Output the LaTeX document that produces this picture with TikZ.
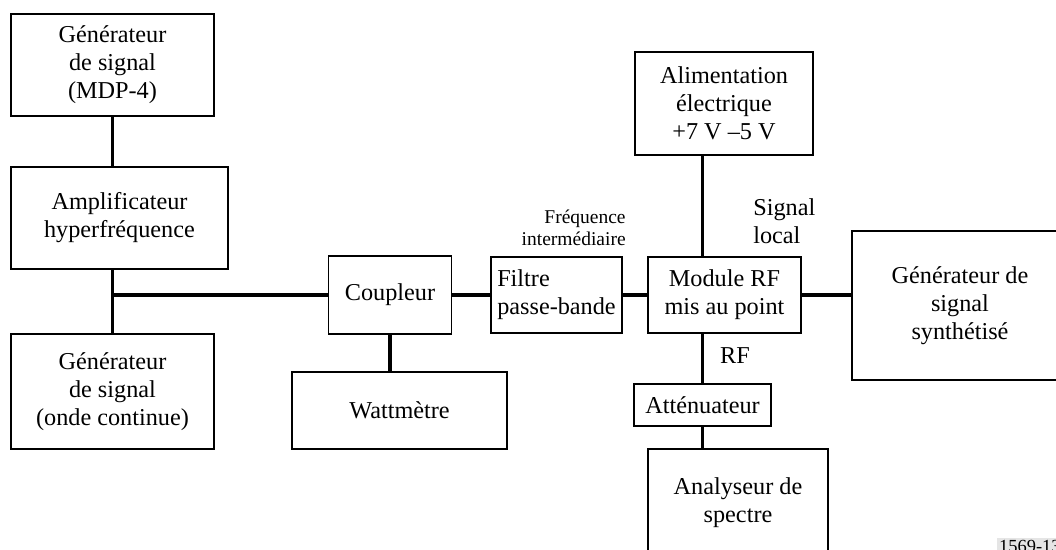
\documentclass[tikz,border=0pt]{standalone}
\usepackage{fontspec}
\setmainfont{Liberation Serif}
\usetikzlibrary{positioning}

\begin{document}
\begin{tikzpicture}[
  x=0.02cm, y=-0.02cm,
  font=\fontsize{13.8}{15.9}\selectfont,
  box/.style={draw, line width=1pt, align=center, inner sep=2pt},
  conn/.style={line width=2pt},
  lbl/.style={inner sep=0pt, align=left},
  small/.style={font=\fontsize{11.1}{12.5}\selectfont}
]
  \useasboundingbox (0,0) rectangle (1056,550);

  \node[box, minimum width=4.06cm, minimum height=2.04cm] (gensig) at (112.5,65) {Générateur\\de signal\\(MDP-4)};
  \node[box, minimum width=4.34cm, minimum height=2.04cm] (ampli) at (119.5,218) {Amplificateur\\hyperfréquence};
  \node[box, minimum width=4.06cm, minimum height=2.3cm] (gencw) at (112.5,391.5) {Générateur\\de signal\\(onde continue)};
  \node[box, minimum width=2.46cm, minimum height=1.56cm] (coupl) at (390,295) {Coupleur};
  \node[box, minimum width=4.3cm, minimum height=1.54cm] (watt) at (399.5,410.5) {Wattmètre};
  \node[box, align=left, minimum width=2.62cm, minimum height=1.52cm] (filtre) at (556.5,295) {Filtre\\passe-bande};
  \node[box, minimum width=3.06cm, minimum height=1.52cm] (modrf) at (724.5,295) {Module RF\\mis au point};
  \node[box, minimum width=3.56cm, minimum height=2.06cm] (alim) at (724,103.5) {Alimentation\\électrique\\+7 V –5 V};
  \node[box, minimum width=4.32cm, minimum height=2.98cm] (synth) at (960,305.5) {Générateur de\\signal\\synthétisé};
  \node[box, minimum width=2.74cm, minimum height=0.84cm] (att) at (702.5,405) {Atténuateur};
  \node[box, minimum width=3.6cm, minimum height=2.16cm] (analy) at (738,503) {Analyseur de\\spectre};

  \node[lbl, small, anchor=east, align=right] (fi) at (626,228) {Fréquence\\intermédiaire};
  \node[lbl, anchor=west] (sl) at (753,221) {Signal\\local};
  \node[lbl] (rf) at (735,356) {RF};
  \node[anchor=north west, fill=gray!20, inner sep=1pt, font=\fontsize{10.5}{12}\selectfont] (ref) at (997,538) {1569-13};

  \coordinate (jct) at (gensig.south |- coupl.west);

  \draw[conn] (gensig.south) -- (gensig.south |- ampli.north);
  \draw[conn] (gensig.south |- ampli.south) -- (gensig.south |- gencw.north);
  \draw[conn] (jct) -- (coupl.west);
  \draw[conn] (coupl.south) -- (coupl.south |- watt.north);
  \draw[conn] (coupl) -- (filtre);
  \draw[conn] (filtre) -- (modrf);
  \draw[conn] (modrf.east) -- (modrf.east -| synth.west);
  \draw[conn] (att.north |- alim.south) -- (att.north |- modrf.north);
  \draw[conn] (att.north |- modrf.south) -- (att.north);
  \draw[conn] (att.south) -- (att.south |- analy.north);
\end{tikzpicture}
\end{document}
